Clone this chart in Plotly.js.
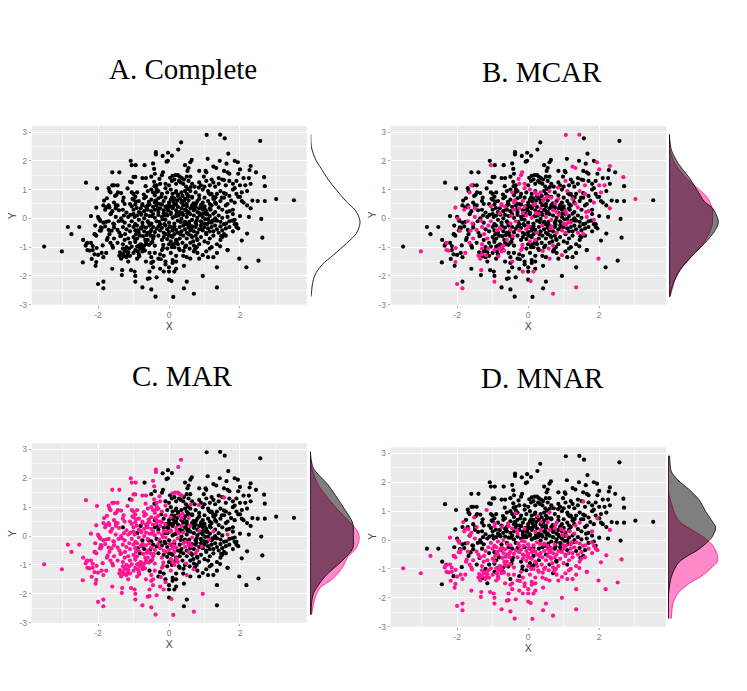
<!DOCTYPE html>
<html><head><meta charset="utf-8">
<script src="https://cdn.plot.ly/plotly-3.0.1.min.js"></script>
<style>html,body{margin:0;padding:0;background:#fff}</style></head>
<body><div id="chart" style="width:747px;height:691px"></div>
<script>
const pointX=[
1.06,1.44,1.57,2.57,.34,.26,-.37,-.37,-.18,-.03,
.08,-.07,-.03,-1.08,1.09,1.43,1.67,1.85,.64,.6,
-1.05,-.94,-.69,-.45,-.42,-.4,-.17,-.2,.1,.18,
.25,.3,.36,.42,.5,.6,.55,.45,.52,.85,
1.03,1.05,1.25,1.33,1.55,1.65,1.7,1.62,1.94,2.0,
2.3,2.27,2.45,1.95,-1.6,-1.4,.98,1.2,1.4,1.5,
-1.6,-1.55,-1.45,-1.1,-1.05,-1.0,-.95,-.75,-.65,-.5,
-.42,-.35,-.25,-.1,.0,.08,.15,.2,.28,.33,
.4,.48,.55,.65,.72,.85,.9,1.0,1.05,1.15,
1.25,1.3,1.4,1.55,1.6,1.7,1.8,1.85,1.9,2.0,
2.1,2.15,2.25,2.3,2.68,2.7,-1.7,-1.68,-1.65,-1.35,
-1.05,-1.0,-.95,-.9,-.65,-.6,-.5,-.45,-.4,-.35,
-.3,-.2,-.1,-.05,.05,.1,.2,.25,.35,.45,
.5,.55,.6,.65,.75,.85,.95,1.1,1.2,1.25,
1.35,1.45,1.55,1.6,1.7,1.8,1.9,1.95,2.05,2.2,
-1.75,-1.55,-1.5,-1.3,-1.25,-1.0,-.85,-.75,-.7,-.6,
-.5,-.4,-.3,-.25,-.15,-.1,0,.05,.15,.2,
.3,.35,.45,.5,.55,.65,.7,.8,.85,.95,
1.0,1.1,1.15,1.25,1.3,1.45,1.55,1.65,1.75,1.85,
2.0,2.05,2.1,2.2,2.3,2.35,2.5,2.7,3.02,3.52,
-2.05,-1.85,-1.8,-1.7,-1.6,-1.5,-1.45,-1.3,-1.2,-1.1,
-1.05,-1.0,-.95,-.85,-.8,-.75,-.7,-.65,-.6,-.55,
-.5,-.45,-.4,-.35,-.3,-.25,-.2,-.15,-.1,-.05,
0,.05,.1,.15,.2,.25,.3,.35,.4,.45,
.5,.55,.6,.65,.7,.75,.8,.85,.9,.95,
1.0,1.05,1.15,1.2,1.3,1.4,1.5,1.6,1.7,1.8,
-2.2,-2.0,-1.95,-1.85,-1.7,-1.65,-1.55,-1.5,-1.35,-1.25,
-1.15,-1.05,-1.0,-.95,-.9,-.85,-.8,-.75,-.7,-.65,
-.6,-.55,-.5,-.45,-.4,-.35,-.3,-.25,-.2,-.15,
-.1,-.05,0,.05,.1,.15,.2,.25,.3,.35,
.4,.45,.5,.55,.6,.65,.7,.75,.8,.85,
.9,.95,1.0,1.05,1.1,1.15,1.2,1.25,1.3,1.35,
1.4,1.45,1.5,1.55,1.65,1.7,1.8,1.85,1.9,2.0,
2.25,2.6,-1.9,-1.8,-1.7,-2.08,-1.95,-1.3,-1.2,-1.1,
-2.85,-2.53,-2.75,-1.55,-1.45,-1.4,-1.0,-.95,-.9,-.85,
-.8,-.75,-.7,-.65,-.6,-.55,-.5,-.45,-.4,-.35,
-.3,-.25,-.2,-.15,-.1,-.05,0,.05,.1,.15,
.2,.25,.3,.35,.4,.45,.5,.55,.6,.65,
.7,.75,.8,.85,.9,.95,1.0,1.05,1.1,1.15,
1.2,1.25,1.3,1.35,1.4,1.45,1.5,1.6,1.7,1.8,
1.85,1.9,1.95,2.2,2.63,-2.42,-2.3,-2.2,-2.1,-2.05,
-2.3,-2.35,-2.15,-2.1,-1.75,-1.65,-1.6,-1.55,-1.45,-1.35,
-1.3,-1.25,-1.2,-1.15,-1.1,-1.0,-.95,-.9,-.85,-.8,
-.75,-.7,-.65,-.6,-.5,-.45,-.4,-.3,-.2,-.15,
-.1,-.05,0,.05,.1,.15,.2,.25,.3,.4,
.5,.55,.6,.65,.7,.75,.8,.85,.9,1.0,
1.05,1.1,1.15,1.2,1.25,1.35,1.45,1.5,1.55,1.6,
2.05,1.65,-1.9,-1.85,-1.4,-1.35,-1.3,-1.25,-1.2,-1.15,
-1.1,-1.0,-.95,-.9,-.85,-.75,-.65,-.55,-.5,-.45,
-.4,-.3,-.25,-.2,-.15,-.05,.05,.1,.15,.2,
.3,.4,.45,.5,.6,.7,.8,.85,.95,1.05,
1.1,1.15,1.25,1.35,1.65,1.98,-2.43,-2.05,-2.07,-1.6,
-1.32,-1.33,-1.07,-.97,-.95,-.95,-.6,-.55,-.45,-.35,
-.55,-.5,-.25,-.15,-.1,.0,.07,.15,.2,.42,
.95,1.35,-2.0,-1.85,-1.85,-.75,-.5,-.38,.12,.42,
.5,.7,1.35,2.18,2.52,.0,-.1,.0,.1,.2,
-.78,-.62,-.48,-.33,-.18,-.03,.12,.27,.42,.57,
.72,.87,1.02,1.17,.13,.33,.48,.63,.78,.93,
-.93,-.73,-.58,-.43,-.28,-.13,.02,.17,.32,.47,
.62,.77,.92,1.07,1.22,.08,.23,.38,.53,.68,
-1.42,-1.27,-1.12,-.97,-.82,-.67,-.52,-.37,-.22,-.07,
-.9,-.82,-.72,-.78,-.68,-.62,-.95,-.88,-1.05,-1.15,
-1.3,-1.22,-1.38,-1.28,-1.18,-1.12,.0,.08,.18,.28,
.38,.48,.58,.68,.78,-.02,.12,.22,.38,.52,
-3.52,-3.02,-2.34,-2.03,-1.98,-1.94,-1.92,-1.92,-2.08,-2.32,
-2.15,-2.24,-2.0,-2.18,-2.04,-1.77,-1.77,-1.87,-1.68,-1.64,
-1.77,-1.68,-1.57,-1.83,-1.73,-1.62,-1.52,-1.44,-1.37,-1.28,
-1.48,-1.33,-1.17,-1.03,-.88,-.71,-.57,-.41,-.27,-.12,
-1.58,-1.41,-1.24,-1.09,-.93,-.78,-.63,-.47,-.31,-.16,
.03,.19,.36,.53,.69,.84,1.01,1.16,1.33,1.49,
.07,.22,.41,.56,.73,.91,1.08,1.27,1.44,1.61,
-.84,-.66,-.53,-.38,-.23,-.08,.11,.26,.44,.61,
.79,.96,1.13,1.31,1.47,1.63,1.78,-.91,-.74,-.56,
-.35,-.17,.04,.21,.37,.58,.76,.92,1.12,1.29
];
const pointY=[
2.9,2.91,2.78,2.69,2.64,2.39,2.3,2.22,2.17,2.28,
2.18,1.97,2.0,2.0,2.07,2.0,2.25,2.0,2.03,1.95,
1.85,1.85,1.85,1.91,1.72,1.55,1.6,1.5,1.48,1.5,
1.5,1.45,1.4,1.35,1.45,1.45,1.75,1.85,1.65,1.65,
1.65,1.6,1.8,1.75,1.65,1.6,1.55,1.9,1.95,1.7,
1.82,1.68,1.6,1.55,1.6,1.6,1.45,1.35,1.4,1.35,
1.15,1.15,1.15,1.27,1.25,1.44,1.44,1.4,1.4,1.45,
1.27,1.15,1.2,1.2,1.15,1.3,1.35,1.2,1.3,1.25,
1.2,1.1,1.3,1.2,1.1,1.25,1.15,1.1,1.3,1.15,
1.25,1.1,1.2,1.33,1.15,1.3,1.2,1.05,1.3,1.15,
1.4,1.15,1.4,1.2,1.43,1.12,1.05,.95,.9,.88,
.9,.85,.75,.9,.75,.95,1.0,.9,.8,1.02,
.95,.85,1.05,.9,1.0,.85,.95,.78,.9,.95,
.85,.78,.95,.75,.9,.8,1.0,.95,.85,.75,
.85,.95,.88,.85,.78,1.0,.85,.75,.9,.95,
.7,.55,.45,.6,.5,.65,.6,.5,.7,.45,
.65,.55,.7,.5,.6,.72,.55,.65,.7,.5,
.7,.55,.68,.5,.62,.72,.5,.6,.68,.55,
.72,.6,.5,.68,.55,.6,.72,.5,.62,.55,
.75,.6,.55,.45,.35,.62,.6,.6,.67,.63,
.37,.45,.3,.45,.25,.35,.45,.3,.2,.5,
.42,.3,.48,.22,.35,.45,.25,.4,.3,.48,
.25,.4,.3,.45,.22,.35,.48,.28,.4,.3,
.45,.2,.35,.48,.28,.4,.22,.35,.46,.3,
.42,.22,.35,.45,.28,.4,.22,.35,.45,.3,
.42,.25,.35,.45,.22,.38,.3,.45,.25,.3,
.08,.05,-.05,-.15,-.1,.15,-.2,.05,.0,-.15,
.05,-.1,.15,-.2,.1,-.05,.18,-.15,.0,.12,
-.1,.08,-.18,.15,.02,-.1,.12,-.2,.05,.18,
-.05,.1,-.15,.15,.02,-.18,.08,-.08,.16,-.02,
.12,-.12,.05,-.2,.15,-.05,.1,-.15,.02,.18,
-.1,.05,-.18,.14,-.02,.08,-.15,.16,.0,-.08,
.1,-.12,.02,-.2,.05,-.1,.15,-.05,-.2,.08,
.05,-.02,-.35,-.28,-.4,-.25,-.42,-.3,-.38,-.45,
-.3,-.3,-.55,-.32,-.4,-.5,-.3,-.42,-.25,-.5,
-.35,-.28,-.45,-.32,-.5,-.25,-.4,-.3,-.48,-.36,
-.28,-.42,-.33,-.5,-.25,-.38,-.48,-.3,-.42,-.27,
-.4,-.5,-.3,-.45,-.25,-.38,-.5,-.32,-.42,-.28,
-.45,-.3,-.5,-.38,-.25,-.42,-.3,-.5,-.35,-.45,
-.3,-.45,-.25,-.38,-.5,-.28,-.42,-.35,-.3,-.45,
-.2,-.3,-.35,-.53,-.67,-.75,-.85,-.85,-.55,-.6,
-1.1,-.95,-1.1,-1.25,-.75,-.85,-.95,-.7,-.85,-.6,
-.9,-.75,-1.0,-.7,-.85,-.65,-.75,-.7,-.95,-.9,
-1.0,-.95,-.85,-.75,-.85,-.7,-.95,-.6,-.75,-.65,
-.55,-.72,-.6,-.8,-.65,-.55,-.75,-.9,-.7,-.6,
-.7,-.55,-.85,-.65,-.95,-.6,-.75,-.9,-.65,-.8,
-.55,-.85,-.7,-1.0,-.6,-.9,-.75,-.65,-.55,-.6,
-.77,-1.1,-1.2,-1.35,-1.3,-1.4,-1.25,-1.15,-1.35,-1.5,
-1.3,-1.2,-1.1,-1.4,-1.25,-1.15,-1.5,-1.2,-1.35,-1.5,
-1.2,-1.4,-1.25,-1.1,-1.3,-1.05,-1.2,-1.45,-1.0,-1.3,
-1.1,-1.3,-1.0,-1.35,-1.4,-1.15,-1.2,-1.4,-1.28,-1.15,
-1.35,-1.05,-1.35,-1.2,-1.1,-1.4,-1.53,-1.52,-1.65,-1.75,
-1.8,-1.97,-1.8,-1.85,-2.0,-2.2,-2.1,-2.08,-1.7,-2.05,
-1.85,-1.55,-1.75,-1.85,-1.6,-2.13,-2.18,-1.85,-1.5,-1.65,
-2.0,-1.7,-2.28,-2.2,-2.43,-2.4,-2.47,-2.72,-2.73,-2.43,
-2.2,-2.62,-2.4,-1.7,-1.47,-1.85,-1.5,-1.7,-1.55,-1.75,
.13,.33,.08,.52,-.03,.37,.58,.1,.6,-.12,
.32,.12,-.03,.3,-.33,-.13,.28,-.35,-.08,.38,
-.55,-.62,-.15,-.62,-.12,-.2,-.28,.07,-.55,-.2,
-.6,-.22,-.15,-.2,-.08,.72,.62,.78,.75,.4,
-.1,.1,-.25,.05,-.6,-.75,-.6,.6,.75,.15,
-.98,-1.05,-1.08,-.92,-1.12,-.9,-.82,-1.15,-.98,-1.18,
-1.05,-1.12,-1.18,-1.32,-1.28,-1.05,-.9,-1.0,-.85,-1.05,
-.85,-.95,-1.05,-.8,-1.0,.28,.42,.18,.16,.18,
-.98,-1.15,1.24,1.04,-.01,-.09,-.31,-.43,-.56,-.87,
-.96,-1.12,-1.27,-1.41,-1.03,-.12,.38,-.94,.38,.16,
-1.2,-.55,-.18,.62,-.68,-.43,.78,.9,-.62,.72,
.82,-.08,1.04,.68,-.42,.83,.57,1.12,1.37,.1,
-1.02,.28,-.55,.12,.58,-.35,-.58,-.82,.33,-.92,
1.41,.9,.62,1.02,.52,1.07,.32,.83,.5,.72,
-.62,-.83,-1.13,-.27,-1.08,.47,.15,.67,-.97,-.18,
-1.32,1.12,-.47,.62,-1.42,.42,-.91,.83,-.16,1.09,
-.72,.17,-.13,.73,-.62,.22,-.08,.36,-.27,-.92,
.92,-1.03,.42,-.77,.19,-.23,.52,-.37,.88,-.07
];
const mcarMissing=[
"1100000000","0000000000","1000001100","0000000000","0011000011","1000000000","1000000000","0011000000",
"0000000010","0000100001","0100100010","0000000100","0010100010","0010000100","0101000010","0000000100",
"0100100001","0010010010","0001000001","0000100010","1010010000","1000010100","0010010010","0001000100",
"0000101000","0100010010","0000100100","0100001000","0010010001","0100100010","0010010000","0010001000",
"0000100100","0000000100","0000100000","1000001000","0100010000","0100100001","0010010100","0000100000",
"0000001000","1000010100","1001000000","1101000000","0001001000","0000100000","0000000010","0000111000",
"0010010001","0001000000","0000100010","0000010100","1000010000","0001001100","0010100000","0110000000",
"0010000010","0100000100","0001001000","0001000010","0010000100","0100100000","1000110000","0010000100",
"0100100100","0100100010","1010010000","0100100010","0010010001","0100010010","0010001000","1001000100",
"0010010000","0100001000"
];
const marMissing=[
"0000111100","0001000000","1101100011","1110000000","0000000000","0000110000","1110111110","1110000000",
"0000000000","0001000000","0000001111","1111111111","1110000000","0000000000","0000000000","1111111111",
"1011010100","1000100000","0000000000","0000000000","1111111011","1111011111","1101011010","0100100100",
"0010000000","0000000000","1111111111","1111011011","1101101011","1001010100","1000010001","0000000100",
"0000100000","0011111111","1111111111","1101111010","1101001010","1000110100","0010000000","0000000000",
"0000011111","1111111111","1111111111","1111011010","1001010100","0100010000","0000000000","0011111111",
"1111111011","1001001010","0001010000","0000001111","1111111111","1111101000","1011111110","0100000000",
"1011100100","0000100100","1101101001","0000000100","1111011101","1111111111","1111110000","0100000100",
"1111111111","1111111111","1111111111","1111011010","1111101101","0010010000","0100000000","1101101001",
"0010000111","1101010100"
];
const mnarMissing=[
"0000000000","0000000000","0000000000","0000000000","0000000000","0000000000","0000000000","0000000000",
"0000000000","0001000000","0000000000","0000000000","0000000000","0010000000","0000000100","0000000000",
"0000000000","0000100100","0000010000","0000100000","0010101000","0010010001","0100100010","0000100100",
"0010010000","0000100001","1000100100","0101010010","0010000100","1010010100","0101000100","0010001001",
"0101000000","0010101010","0010111011","1011101011","0111011010","1101010111","1011011101","1110101011",
"1111101111","1110111101","1101011011","1011101101","1110101101","1101110111","1011111101","1111111110",
"1101111101","1101101111","1111101111","1111110111","1111111111","1111111111","1111111111","1111111111",
"0000100000","0001110101","1110111010","1001100000","0010011000","1101110111","1110111101","1111100000",
"1100110111","1111101011","1001101000","0010101000","1010101010","0010001010","1010101011","1010100110",
"0100001010","1001001000"
];
const densityAY=[2.92,2.5,2.26,2.0,1.8,1.33,.98,.58,.29,0,-.17,-.52,-.87,-1.27,-1.62,-1.97,-2.26,-2.5,-2.72];
const densityAValues=[0,.005,.02,.045,.075,.145,.21,.29,.36,.395,.40,.37,.29,.185,.09,.035,.015,.008,.002];
const densityBBlackY=[2.92,2.37,1.91,1.39,.93,.58,.35,0,-.17,-.46,-.87,-1.33,-1.8,-2.26,-2.72];
const densityBBlackValues=[.002,.02,.075,.168,.235,.288,.355,.395,.4,.368,.288,.181,.088,.035,.005];
const densityBPinkY=[2.92,2.37,1.91,1.39,1.04,.7,.35,.06,-.29,-.81,-1.27,-1.74,-2.14,-2.72];
const densityBPinkValues=[0,.008,.048,.141,.235,.315,.35,.355,.347,.288,.195,.1,.048,.01];
const densityCBlackY=[2.92,2.35,1.77,1.02,.44,.03,-.43,-.83,-1.41,-2.0,-2.72];
const densityCBlackValues=[.002,.027,.147,.267,.347,.352,.347,.267,.12,.027,.008];
const densityCPinkY=[2.92,2.35,1.77,1.3,.9,.44,.15,-.08,-.43,-.72,-1.06,-1.47,-1.8,-2.16,-2.72];
const densityCPinkValues=[0,.013,.067,.147,.227,.333,.387,.4,.373,.307,.267,.187,.08,.04,.013];
const densityDBlackY=[2.92,2.37,2.08,1.74,1.39,.98,.64,.44,.12,-.12,-.35,-.58,-.81,-1.27,-1.85,-2.72];
const densityDBlackValues=[.013,.027,.08,.173,.253,.307,.36,.387,.36,.307,.24,.147,.08,.027,.005,.001];
const densityDPinkY=[2.92,1.65,1.27,.93,.64,.4,.12,-.17,-.52,-.75,-.98,-1.27,-1.5,-1.85,-2.2,-2.72];
const densityDPinkValues=[0,.005,.027,.053,.093,.173,.28,.36,.4,.4,.347,.267,.173,.08,.04,.027];
const xTicks=[-2,0,2];
const xTickLabels=["-2","0","2"];
const xMinorTicks=[-3,-1,1,3];
const yTicks=[-3,-2,-1,0,1,2,3];
const yTickLabels=["-3","-2","-1","0","1","2","3"];
const yMinorTicks=[-2.5,-1.5,-.5,.5,1.5,2.5];
const panelTitles=["A. Complete","B. MCAR","C. MAR","D. MNAR"];

const W=747,H=691;
const PINK='#FF1493';
const panels=[
 {left:31.7,right:306.7,top:126,bottom:304.7,dLeft:310.7,flags:null,tx:183,ty:69,yt:12},
 {left:390.7,right:666,top:126,bottom:304.7,dLeft:669,flags:mcarMissing.join(''),tx:542,ty:72,yt:372},
 {left:31.7,right:306.7,top:443.3,bottom:622.7,dLeft:310,flags:marMissing.join(''),tx:182,ty:376,yt:12},
 {left:390.7,right:666,top:447.3,bottom:626.7,dLeft:668,flags:mnarMissing.join(''),tx:542,ty:378,yt:372}
];
const dens=[
 [[densityAY,densityAValues,null]],
 [[densityBPinkY,densityBPinkValues,PINK],[densityBBlackY,densityBBlackValues,'#000']],
 [[densityCPinkY,densityCPinkValues,PINK],[densityCBlackY,densityCBlackValues,'#000']],
 [[densityDPinkY,densityDPinkValues,PINK],[densityDBlackY,densityDBlackValues,'#000']]
];
const traces=[],annotations=[],shapes=[];
const layout={width:W,height:H,margin:{l:0,r:0,t:0,b:0},paper_bgcolor:'#fff',plot_bgcolor:'rgba(0,0,0,0)',showlegend:false,
  font:{family:'Liberation Sans, Arial, sans-serif'}};
panels.forEach((p,i)=>{
  const sx=i*2+1, dx=i*2+2;
  const xa=n=>n===1?'x':'x'+n, ya=n=>n===1?'y':'y'+n;
  const key=(a,n)=>n===1?a:a+n;
  const yDomain=[1-p.bottom/H,1-p.top/H];
  shapes.push({type:'rect',layer:'below',xref:'paper',yref:'paper',x0:p.left/W,x1:p.right/W,y0:yDomain[0],y1:yDomain[1],fillcolor:'#EBEBEB',line:{width:0}});
  layout[key('xaxis',sx)]={domain:[p.left/W,p.right/W],anchor:ya(sx),range:[-3.87,3.88],tickmode:'array',tickvals:xTicks,ticktext:xTickLabels,
    showgrid:true,gridcolor:'#fff',gridwidth:1,zeroline:false,showline:false,ticks:'outside',ticklen:2,tickcolor:'#aaa',tickwidth:1,
    tickfont:{size:8.5,color:'#808080'},title:{text:'X',font:{size:10.5,color:'#444'},standoff:1},automargin:false,
    minor:{tickmode:'array',tickvals:xMinorTicks,showgrid:true,gridcolor:'#fff',gridwidth:.5,ticks:''}};
  layout[key('yaxis',sx)]={domain:yDomain,anchor:xa(sx),range:[-3,3.21],tickmode:'array',tickvals:yTicks,ticktext:yTickLabels,
    showgrid:true,gridcolor:'#fff',gridwidth:1,zeroline:false,showline:false,ticks:'outside',ticklen:2,tickcolor:'#aaa',tickwidth:1,
    tickfont:{size:8.5,color:'#808080'},automargin:false,
    minor:{tickmode:'array',tickvals:yMinorTicks,showgrid:true,gridcolor:'#fff',gridwidth:.5,ticks:''}};
  const blackX=[],blackY=[],pinkX=[],pinkY=[];
  pointX.forEach((v,k)=>{
    if(p.flags&&p.flags[k]==='1'){pinkX.push(v);pinkY.push(pointY[k]);}
    else{blackX.push(v);blackY.push(pointY[k]);}
  });
  traces.push({type:'scatter',mode:'markers',x:blackX,y:blackY,xaxis:xa(sx),yaxis:ya(sx),marker:{color:'#000',size:4.2},hoverinfo:'skip',cliponaxis:false});
  if(pinkX.length)traces.push({type:'scatter',mode:'markers',x:pinkX,y:pinkY,xaxis:xa(sx),yaxis:ya(sx),marker:{color:PINK,size:4.2},hoverinfo:'skip',cliponaxis:false});
  layout[key('xaxis',dx)]={domain:[p.dLeft/W,(p.dLeft+52)/W],anchor:ya(dx),range:[0,.422],visible:false,fixedrange:true};
  layout[key('yaxis',dx)]={domain:yDomain,anchor:xa(dx),range:[-3,3.21],visible:false,fixedrange:true};
  dens[i].forEach(d=>{
    const c=d[2];
    if(c===null){
      traces.push({type:'scatter',mode:'lines',x:d[1],y:d[0],xaxis:xa(dx),yaxis:ya(dx),line:{color:'#222',width:1,shape:'spline',smoothing:1},hoverinfo:'skip'});
    }else{
      traces.push({type:'scatter',mode:'lines',x:d[1],y:d[0],xaxis:xa(dx),yaxis:ya(dx),
        fill:'tozerox',fillcolor:c==='#000'?'rgba(0,0,0,.5)':'rgba(255,20,147,.5)',line:{color:c,width:.8,shape:'spline',smoothing:.8},hoverinfo:'skip'});
      traces.push({type:'scatter',mode:'lines',x:[0,0],y:[d[0][0],d[0][d[0].length-1]],xaxis:xa(dx),yaxis:ya(dx),line:{color:c,width:.8},hoverinfo:'skip'});
    }
  });
  annotations.push({xref:'paper',yref:'paper',x:p.tx/W,y:1-p.ty/H,text:panelTitles[i],showarrow:false,xanchor:'center',yanchor:'middle',
    font:{family:'Liberation Serif, Times New Roman, serif',size:29,color:'#000'}});
  annotations.push({xref:'paper',yref:'paper',x:p.yt/W,y:(yDomain[0]+yDomain[1])/2,text:'Y',textangle:-90,showarrow:false,xanchor:'center',yanchor:'middle',
    font:{size:10.5,color:'#444'}});
});
layout.annotations=annotations;
layout.shapes=shapes;
Plotly.newPlot('chart',traces,layout,{displayModeBar:false,responsive:false,staticPlot:true});
</script></body></html>
